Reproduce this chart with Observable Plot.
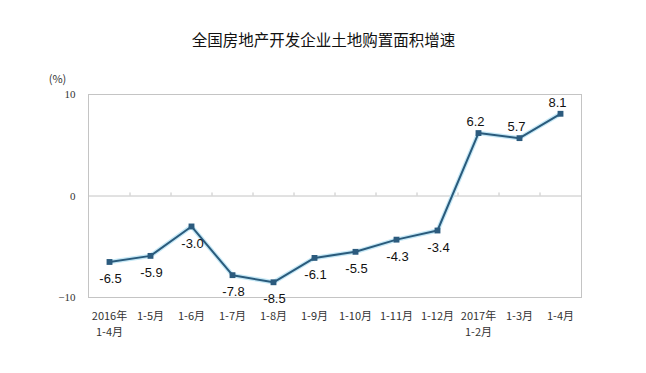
<!DOCTYPE html>
<html><head><meta charset="utf-8">
<script src="https://cdn.jsdelivr.net/npm/d3@7"></script>
<script src="https://cdn.jsdelivr.net/npm/@observablehq/plot@0.6"></script>
<style>body{margin:0;background:#fff;}</style>
</head><body><div id="chart"></div>
<script>
const categories = ["2016年\n1-4月","1-5月","1-6月","1-7月","1-8月","1-9月","1-10月","1-11月","1-12月","2017年\n1-2月","1-3月","1-4月"];
const values = [-6.5,-5.9,-3.0,-7.8,-8.5,-6.1,-5.5,-4.3,-3.4,6.2,5.7,8.1];
const yTicks = [-10,0,10];
const title = "全国房地产开发企业土地购置面积增速";
const unit = "(%)";

const data = categories.map((c,i)=>({c, v: values[i]}));
const cjk = "'Noto Sans CJK SC', sans-serif";

const chart = Plot.plot({
  width: 646, height: 373,
  marginLeft: 88, marginRight: 65, marginTop: 94, marginBottom: 76,
  style: {background: "#fff", fontFamily: cjk},
  x: {type: "point", domain: categories, padding: 0.5, label: null},
  y: {domain: [-10, 10], label: null},
  marks: [
    Plot.frame({stroke: "#c4c4c4"}),
    Plot.ruleY([0], {stroke: "#c4c4c4"}),
    Plot.ruleX(categories.slice(0,-1), {x: d=>d, y1: 0, y2: 0.3, dx: 20.5, stroke: "#c4c4c4"}),
    Plot.axisY({ticks: yTicks, tickSize: 0, tickPadding: 13, fontSize: 11, fill: "#333", fontFamily: "'Liberation Serif', serif"}),
    Plot.axisX({tickSize: 0, tickPadding: 11, fontSize: 11, lineHeight: 1.45, fill: "#333", fontFamily: cjk}),
    Plot.line(data, {x: "c", y: "v", stroke: "#c6e8f6", strokeWidth: 4.5}),
    Plot.line(data, {x: "c", y: "v", stroke: "#2a5b7c", strokeWidth: 2}),
    Plot.dot(data, {x: "c", y: "v", symbol: "square", r: 3.3, fill: "#2c5b7e", stroke: "none"}),
    Plot.text(data.filter(d=>d.v<0), {x: "c", y: "v", text: d=>d.v.toFixed(1), dy: 17, dx: 1, fontSize: 13, fill: "#111", fontFamily: "'Liberation Sans', Arial, sans-serif"}),
    Plot.text(data.filter(d=>d.v>0), {x: "c", y: "v", text: d=>d.v.toFixed(1), dy: -11, dx: -3, fontSize: 13, fill: "#111", fontFamily: "'Liberation Sans', Arial, sans-serif"}),
    Plot.text([title], {frameAnchor: "top-left", dx: 235, dy: -60, textAnchor: "middle", fontSize: 15.5, fill: "#111", fontFamily: cjk}),
    Plot.text([unit], {frameAnchor: "top-left", dx: -31, dy: -19, textAnchor: "middle", fontSize: 11, fill: "#333", fontFamily: cjk})
  ]
});
document.getElementById("chart").appendChild(chart);
</script>
</body></html>
